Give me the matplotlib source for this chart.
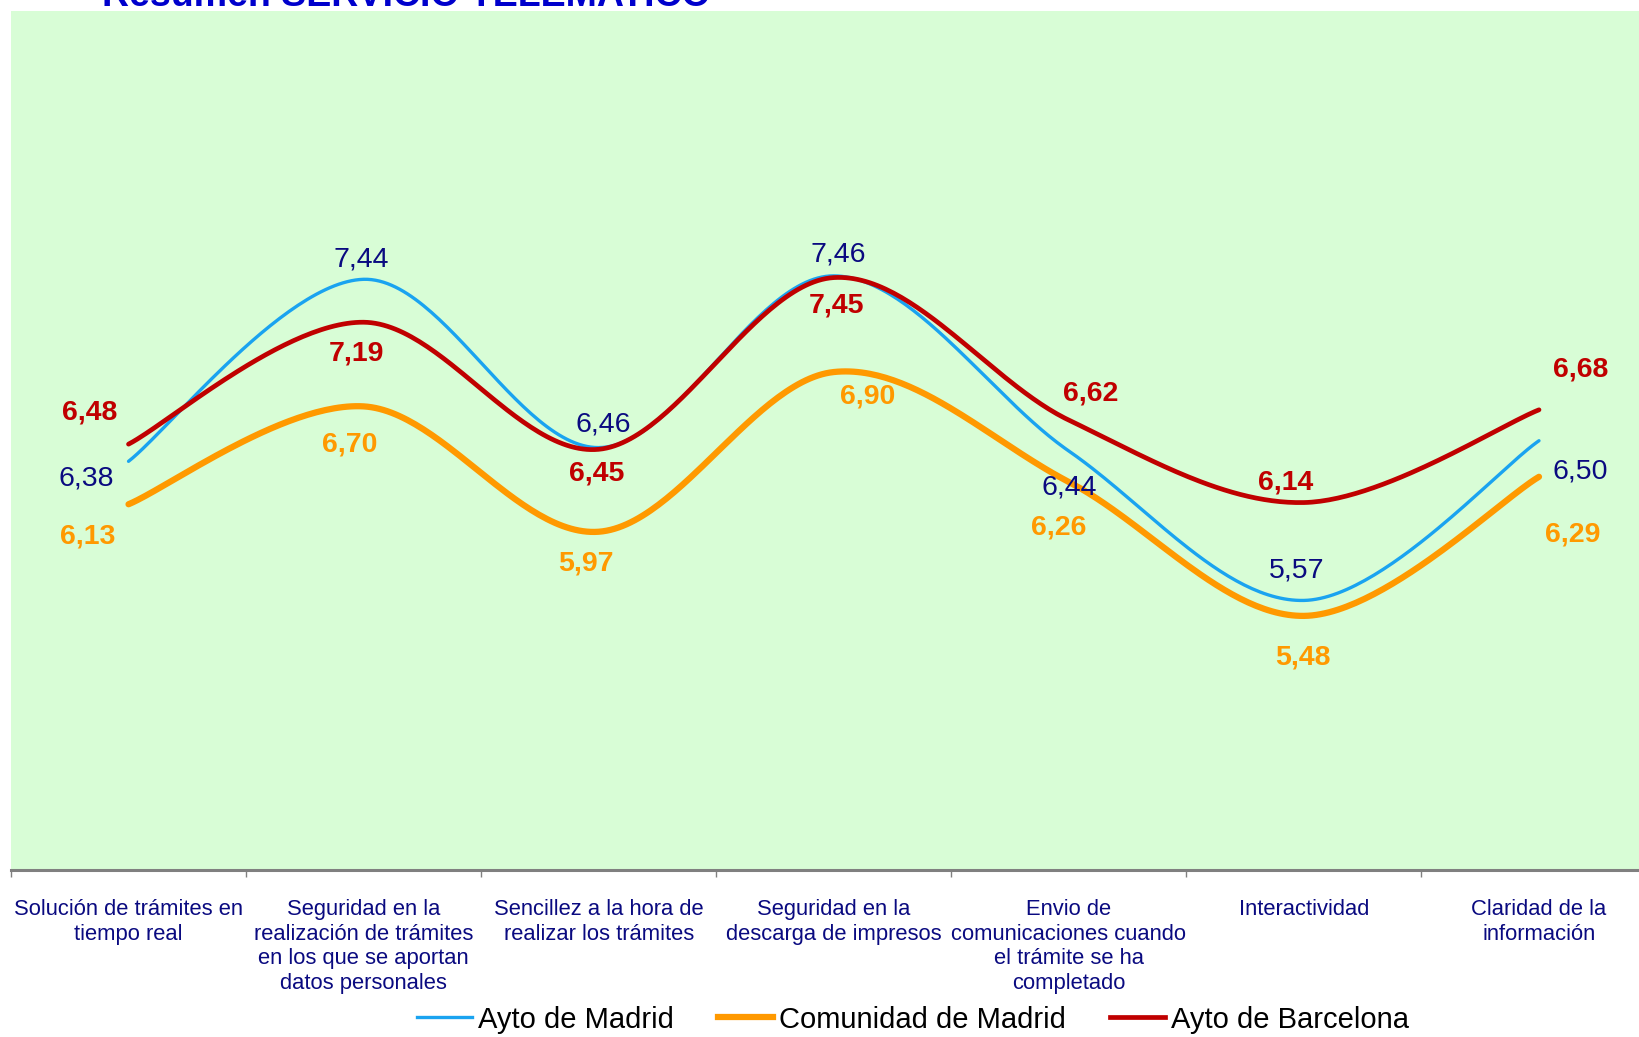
import numpy as np
import matplotlib
matplotlib.use("Agg")
import matplotlib.pyplot as plt
from matplotlib.lines import Line2D

plt.rcParams['font.family'] = ['Liberation Sans', 'DejaVu Sans']

categories = [
    "Solución de trámites en\ntiempo real",
    "Seguridad en la\nrealización de trámites\nen los que se aportan\ndatos personales",
    "Sencillez a la hora de\nrealizar los trámites",
    "Seguridad en la\ndescarga de impresos",
    "Envio de\ncomunicaciones cuando\nel trámite se ha\ncompletado",
    "Interactividad",
    "Claridad de la\ninformación",
]
ayto_madrid = [6.38, 7.44, 6.46, 7.46, 6.44, 5.57, 6.50]
comunidad_madrid = [6.13, 6.70, 5.97, 6.90, 6.26, 5.48, 6.29]
ayto_barcelona = [6.48, 7.19, 6.45, 7.45, 6.62, 6.14, 6.68]

# label offsets in pixels (dx, dy) per point
madrid_off = [(-42, -17), (-2, 20), (5, 23), (4, 21), (0, -36), (-7, 30), (41, -31)]
comunidad_off = [(-41, -32), (-14, -38), (-13, -32), (34, -24), (-10, -46), (-1, -42), (34, -58)]
barcelona_off = [(-39, 32), (-7, -31), (-2, -24), (3, -28), (22, 27), (-18, 20), (42, 40)]


def smooth(xs, ys, n=60):
    # Bezier smoothing with Catmull-Rom style control points
    pts = np.column_stack([xs, ys]).astype(float)
    ext = np.vstack([pts[0], pts, pts[-1]])
    out = []
    t = np.linspace(0, 1, n)[:, None]
    for i in range(len(pts) - 1):
        p0, p1, p2, p3 = ext[i], ext[i + 1], ext[i + 2], ext[i + 3]
        c1 = p1 + (p2 - p0) / 6
        c2 = p2 - (p3 - p1) / 6
        seg = ((1 - t) ** 3) * p1 + 3 * ((1 - t) ** 2) * t * c1 + 3 * (1 - t) * t ** 2 * c2 + t ** 3 * p2
        out.append(seg if i == 0 else seg[1:])
    seg = np.vstack(out)
    return seg[:, 0], seg[:, 1]


fig = plt.figure(figsize=(16.39, 10.37), dpi=100)
# plot area runs a little past the right edge of the figure
ax = fig.add_axes([0.0067, 0.161, 1.004, 0.828])
ax.set_facecolor('#d8fdd6')

x = np.arange(len(categories))
series = [
    (ayto_madrid, '#1aa3f0', 2.4, 'Ayto de Madrid', '#0a0a80', 'normal', madrid_off),
    (comunidad_madrid, '#ff9900', 4.5, 'Comunidad de Madrid', '#ff9900', 'bold', comunidad_off),
    (ayto_barcelona, '#c00000', 3.4, 'Ayto de Barcelona', '#c00000', 'bold', barcelona_off),
]
handles = []
for vals, col, lw, name, tcol, weight, offs in series:
    sx, sy = smooth(x, vals)
    ax.plot(sx, sy, color=col, lw=lw, solid_capstyle='round')
    handles.append(Line2D([0], [0], color=col, lw=lw, label=name))
    for xi, v, (dx, dy) in zip(x, vals, offs):
        ax.annotate(f"{v:.2f}".replace('.', ','), (xi, v), xytext=(dx, dy),
                    textcoords='offset pixels', ha='center', va='center',
                    fontsize=20.5, color=tcol, fontweight=weight)

ax.set_xlim(-0.5, len(categories) - 0.5)
ax.set_ylim(4, 9)
ax.set_yticks([])
for s in ['left', 'right', 'top']:
    ax.spines[s].set_visible(False)
ax.spines['bottom'].set_color('#808080')
ax.spines['bottom'].set_linewidth(2.2)

ax.set_xticks(np.arange(-0.5, len(categories), 1.0))
ax.set_xticklabels([])
ax.tick_params(axis='x', which='major', length=5, width=1, color='#808080')
ax.set_xticks(x, minor=True)
ax.set_xticklabels(categories, minor=True, fontsize=15.8, color='#0a0a80', linespacing=1.22)
ax.tick_params(axis='x', which='minor', length=0, pad=21)
for lab in ax.get_xticklabels(minor=True):
    lab.set_verticalalignment('top')

fig.text(0.062, 0.994, "Resumen SERVICIO TELEMATICO", fontsize=27, fontweight='bold',
         color='#0000cc', va='baseline', ha='left')

fig.legend(handles=handles, loc='lower center', bbox_to_anchor=(0.557, -0.022), ncol=3,
           frameon=False, fontsize=21, handlelength=1.9, handletextpad=0.2, columnspacing=1.5)

fig.savefig('out.png', dpi=100)
